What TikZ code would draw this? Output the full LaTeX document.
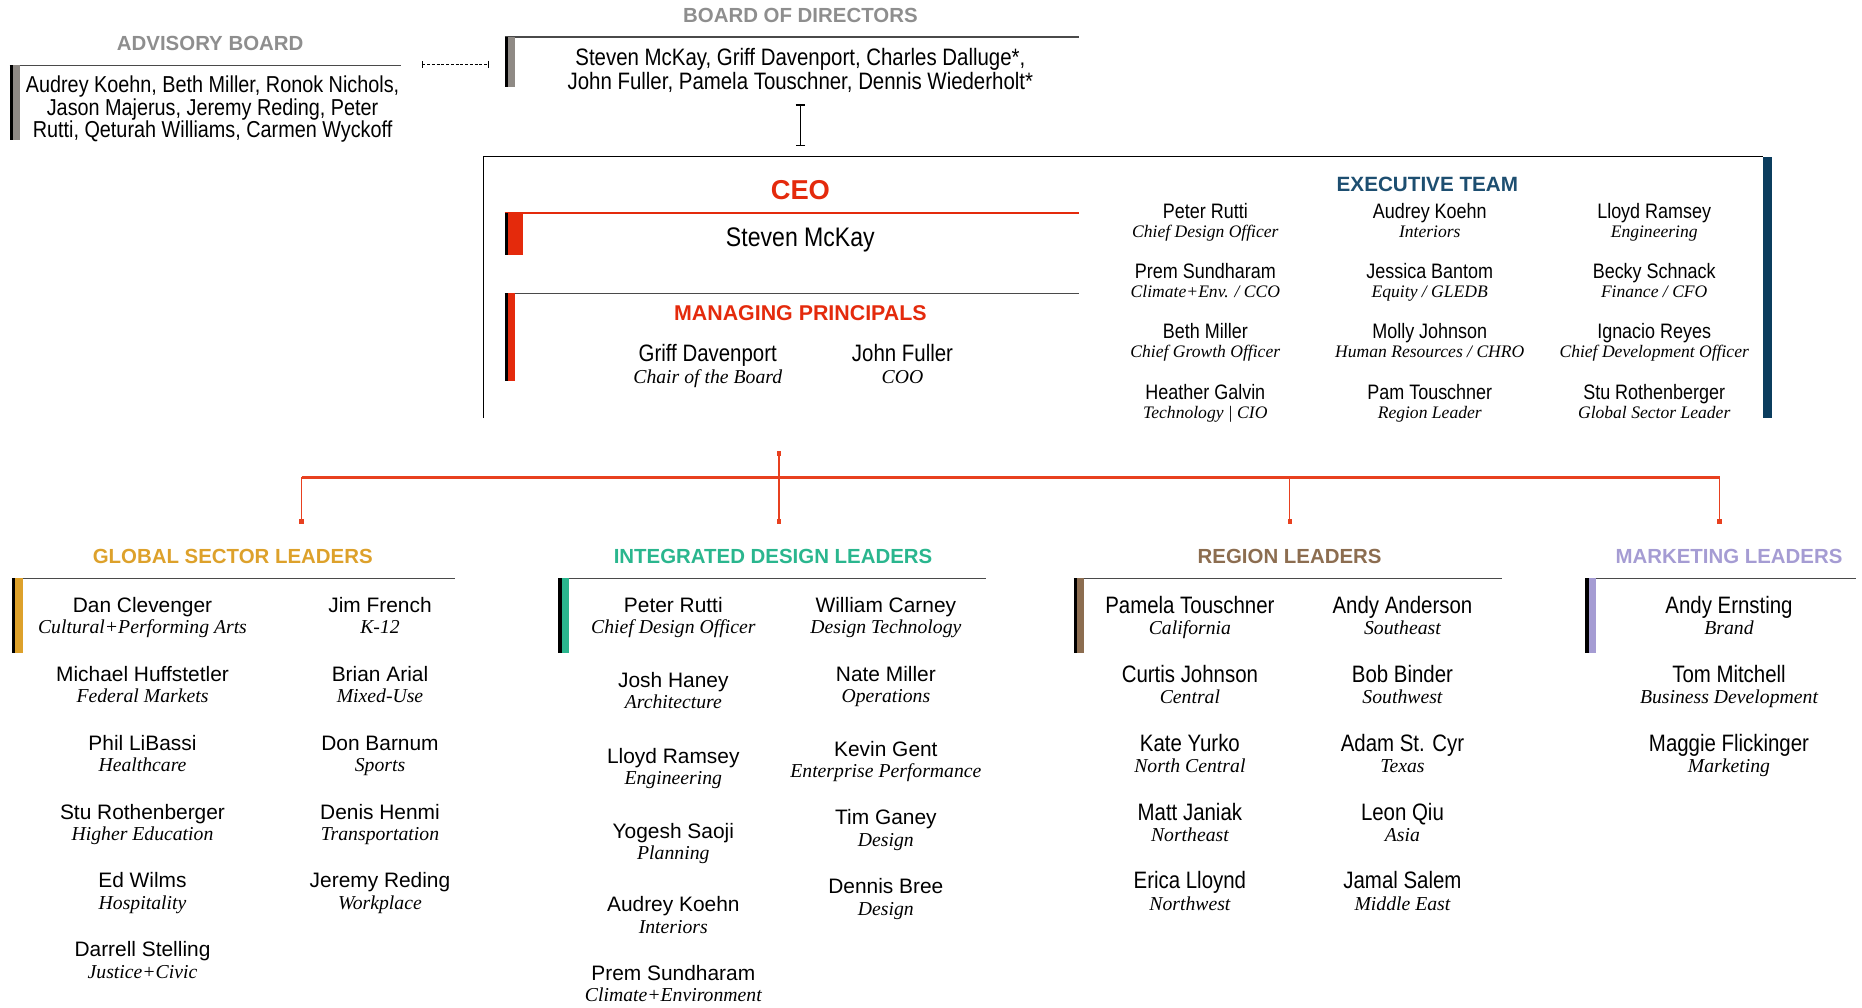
\documentclass[tikz,border=0pt]{standalone}
\usepackage{fontspec}
\setmainfont{Liberation Sans}
\newfontfamily\narrowsans[FakeStretch=0.86]{Liberation Sans}
\newfontfamily\roleserif{Liberation Serif}
\usetikzlibrary{arrows.meta}

\definecolor{hdgray}{HTML}{8E8E8E}
\definecolor{bargray}{HTML}{8F8A85}
\definecolor{ceored}{HTML}{E42A0C}
\definecolor{treered}{HTML}{E8401F}
\definecolor{navy}{HTML}{0B3D5E}
\definecolor{execblue}{HTML}{1D4E70}
\definecolor{gsgold}{HTML}{DDA12B}
\definecolor{idteal}{HTML}{2AB68E}
\definecolor{rlbrown}{HTML}{8C6D50}
\definecolor{mklav}{HTML}{A59CD3}
\definecolor{rulegray}{HTML}{4A4A4A}

\def\role#1{{\roleserif\itshape\fontsize{8.3}{9}\selectfont\strut #1}}
\def\xrole#1{{\roleserif\itshape\fontsize{7.4}{8}\selectfont\strut #1}}
\def\who#1#2{\strut#1\\\role{#2}}
\def\xwho#1#2{\strut#1\\\xrole{#2}}
% black edge + coloured strip
\newcommand{\sidebar}[4]{%
  \fill[black] (#1,#2) rectangle ++(3,#3);
  \fill[#4] (#1+3,#2) rectangle ++(6,#3);}

\tikzset{
  head/.style={font=\bfseries\fontsize{8.6}{10}\selectfont, inner sep=0pt},
  rule/.style={rulegray, line width=0.6pt},
  board text/.style={align=center, inner sep=0pt, font=\narrowsans\fontsize{9.8}{9.8}\selectfont},
  person/.style={align=center, inner sep=0pt, font=\fontsize{8.8}{9}\selectfont},
  nperson/.style={align=center, inner sep=0pt, font=\narrowsans\fontsize{10}{9}\selectfont},
  xperson/.style={align=center, inner sep=0pt, font=\narrowsans\fontsize{8.8}{8}\selectfont},
  busline/.style={treered, line width=1.2pt},
  drop/.style={treered, line width=0.6pt, -{Square[length=1.8pt,width=1.8pt]}},
  ibeam/.style={line width=0.6pt, {Bar[width=4pt]}-{Bar[width=4pt]}},
  advlink/.style={line width=0.5pt, dash pattern=on 1.2pt off 0.8pt, {Bar[width=3pt]}-{Bar[width=3pt]}}
}

\begin{document}
\begin{tikzpicture}[x=0.5pt,y=-0.5pt]
	\useasboundingbox (0,0) rectangle (1568,848);

	% advisory board
	\node[head, text=hdgray] (advhead) at (177,37) {ADVISORY BOARD};
	\draw[rule] (8,55) -- (338,55);
	\sidebar{8}{55}{63}{bargray}
	\node[board text, font=\narrowsans\fontsize{9.7}{9.5}\selectfont] (adv) at (179,92)
		{Audrey Koehn, Beth Miller, Ronok Nichols,\\Jason Majerus, Jeremy Reding, Peter\\Rutti, Qeturah Williams, Carmen Wyckoff};
	\coordinate (advrule) at (338,54);

	% board of directors
	\node[head, text=hdgray] (bodhead) at (674,13) {BOARD OF DIRECTORS};
	\draw[rule] (425,31) -- (909,31);
	\sidebar{425}{31}{42}{bargray}
	\node[board text, font=\narrowsans\fontsize{10}{10}\selectfont] (bod) at (674,59)
		{Steven McKay, Griff Davenport, Charles Dalluge*,\\John Fuller, Pamela Touschner, Dennis Wiederholt*};
	\coordinate (bodrule) at (425,54);
	\draw[advlink, shorten <=8.5pt, shorten >=6.5pt] (advrule) -- (bodrule);

	% leadership frame
	\draw[line width=0.6pt] (407,352) -- (407,132) -- (1485,132);
	\fill[navy] (1485,132) rectangle (1492,352);
	\coordinate (maintop) at (674,132);
	\draw[ibeam, shorten <=5pt, shorten >=4.5pt] (bod.south) -- (maintop);

	% ceo
	\node[head, text=ceored, font=\bfseries\fontsize{11.5}{12}\selectfont] (ceohead) at (674,160) {CEO};
	\draw[ceored, line width=0.9pt] (425,179) -- (909,179);
	\fill[black] (425,179) rectangle ++(3,36);
	\fill[ceored] (428,179) rectangle ++(12,36);
	\node[nperson, font=\narrowsans\fontsize{11.3}{12}\selectfont] (ceo) at (674,202) {Steven McKay};

	% managing principals
	\draw[rule] (425,247) -- (909,247);
	\sidebar{425}{247}{74}{ceored}
	\node[head, text=ceored, font=\bfseries\fontsize{9}{10}\selectfont] (mphead) at (674,264) {MANAGING PRINCIPALS};
	\node[nperson] (griff) at (596,309) {\who{Griff Davenport}{Chair of the Board}};
	\node[nperson] (fuller) at (760,309) {\who{John Fuller}{COO}};

	% executive team
	\node[head, text=execblue, font=\bfseries\fontsize{8.7}{10}\selectfont] (exechead) at (1202,155) {EXECUTIVE TEAM};
	\foreach \nm/\rl [count=\i] in {Peter Rutti/Chief Design Officer, Prem Sundharam/{Climate+Env. / CCO},
		Beth Miller/Chief Growth Officer, Heather Galvin/{Technology | CIO}}
		\node[xperson] (exa\i) at (1015,{188+50.7*(\i-1)}) {\xwho{\nm}{\rl}};
	\foreach \nm/\rl [count=\i] in {Audrey Koehn/Interiors, Jessica Bantom/{Equity / GLEDB},
		Molly Johnson/{Human Resources / CHRO}, Pam Touschner/Region Leader}
		\node[xperson] (exb\i) at (1204,{188+50.7*(\i-1)}) {\xwho{\nm}{\rl}};
	\foreach \nm/\rl [count=\i] in {Lloyd Ramsey/Engineering, Becky Schnack/{Finance / CFO},
		Ignacio Reyes/Chief Development Officer, Stu Rothenberger/Global Sector Leader}
		\node[xperson] (exc\i) at (1393,{188+50.7*(\i-1)}) {\xwho{\nm}{\rl}};

	% leader groups
	\foreach \g/\hx/\xl/\xr/\col/\txt in {gsl/196/10/383/gsgold/GLOBAL SECTOR LEADERS,
		idl/651/470/830/idteal/INTEGRATED DESIGN LEADERS, rgl/1086/904/1265/rlbrown/REGION LEADERS,
		mkl/1456/1335/1563/mklav/MARKETING LEADERS}{
		\node[head, text=\col] (\g) at (\hx,469) {\txt};
		\draw[rule] (\xl,487) -- (\xr,487);
		\sidebar{\xl}{487}{63}{\col}
	}

	% tree from the frame down to the groups
	\coordinate (feed) at (656,380);
	\coordinate (bus) at (656,402);
	\coordinate (gsdrop) at (254,441);
	\coordinate (iddrop) at (656,441);
	\coordinate (rgdrop) at (1086,441);
	\coordinate (mkdrop) at (1448,441);
	\draw[busline] (gsdrop |- bus) -- (mkdrop |- bus);
	\draw[drop, {Square[length=1.8pt,width=1.8pt]}-{Square[length=1.8pt,width=1.8pt]}] (feed) -- (iddrop);
	\foreach \d in {gsdrop,rgdrop,mkdrop}
		\draw[drop] (\d |- bus) -- (\d);

	% global sector leaders
	\foreach \nm/\rl [count=\i] in {Dan Clevenger/Cultural+Performing Arts, Michael Huffstetler/Federal Markets,
		Phil LiBassi/Healthcare, Stu Rothenberger/Higher Education, Ed Wilms/Hospitality, Darrell Stelling/Justice+Civic}
		\node[person] (gsa\i) at (120,{521+58*(\i-1)}) {\who{\nm}{\rl}};
	\foreach \nm/\rl [count=\i] in {Jim French/K-12, Brian Arial/Mixed-Use, Don Barnum/Sports,
		Denis Henmi/Transportation, Jeremy Reding/Workplace}
		\node[person] (gsb\i) at (320,{521+58*(\i-1)}) {\who{\nm}{\rl}};

	% integrated design leaders
	\foreach \yy/\nm/\rl [count=\i] in {510/Peter Rutti/Chief Design Officer, 573/Josh Haney/Architecture,
		637/Lloyd Ramsey/Engineering, 700/Yogesh Saoji/Planning, 762/Audrey Koehn/Interiors,
		820/Prem Sundharam/Climate+Environment}
		\node[person] (ida\i) at (567,\yy+11) {\who{\nm}{\rl}};
	\foreach \yy/\nm/\rl [count=\i] in {510/William Carney/Design Technology, 568/Nate Miller/Operations,
		631/Kevin Gent/Enterprise Performance, 689/Tim Ganey/Design, 747/Dennis Bree/Design}
		\node[person] (idb\i) at (746,\yy+11) {\who{\nm}{\rl}};

	% region leaders
	\foreach \nm/\rl [count=\i] in {Pamela Touschner/California, Curtis Johnson/Central, Kate Yurko/North Central,
		Matt Janiak/Northeast, Erica Lloynd/Northwest}
		\node[nperson] (rga\i) at (1002,{521+58*(\i-1)}) {\who{\nm}{\rl}};
	\foreach \nm/\rl [count=\i] in {Andy Anderson/Southeast, Bob Binder/Southwest, Adam St. Cyr/Texas,
		Leon Qiu/Asia, Jamal Salem/Middle East}
		\node[nperson] (rgb\i) at (1181,{521+58*(\i-1)}) {\who{\nm}{\rl}};

	% marketing leaders
	\foreach \nm/\rl [count=\i] in {Andy Ernsting/Brand, Tom Mitchell/Business Development,
		Maggie Flickinger/Marketing}
		\node[nperson] (mka\i) at (1456,{521+58*(\i-1)}) {\who{\nm}{\rl}};
\end{tikzpicture}
\end{document}
